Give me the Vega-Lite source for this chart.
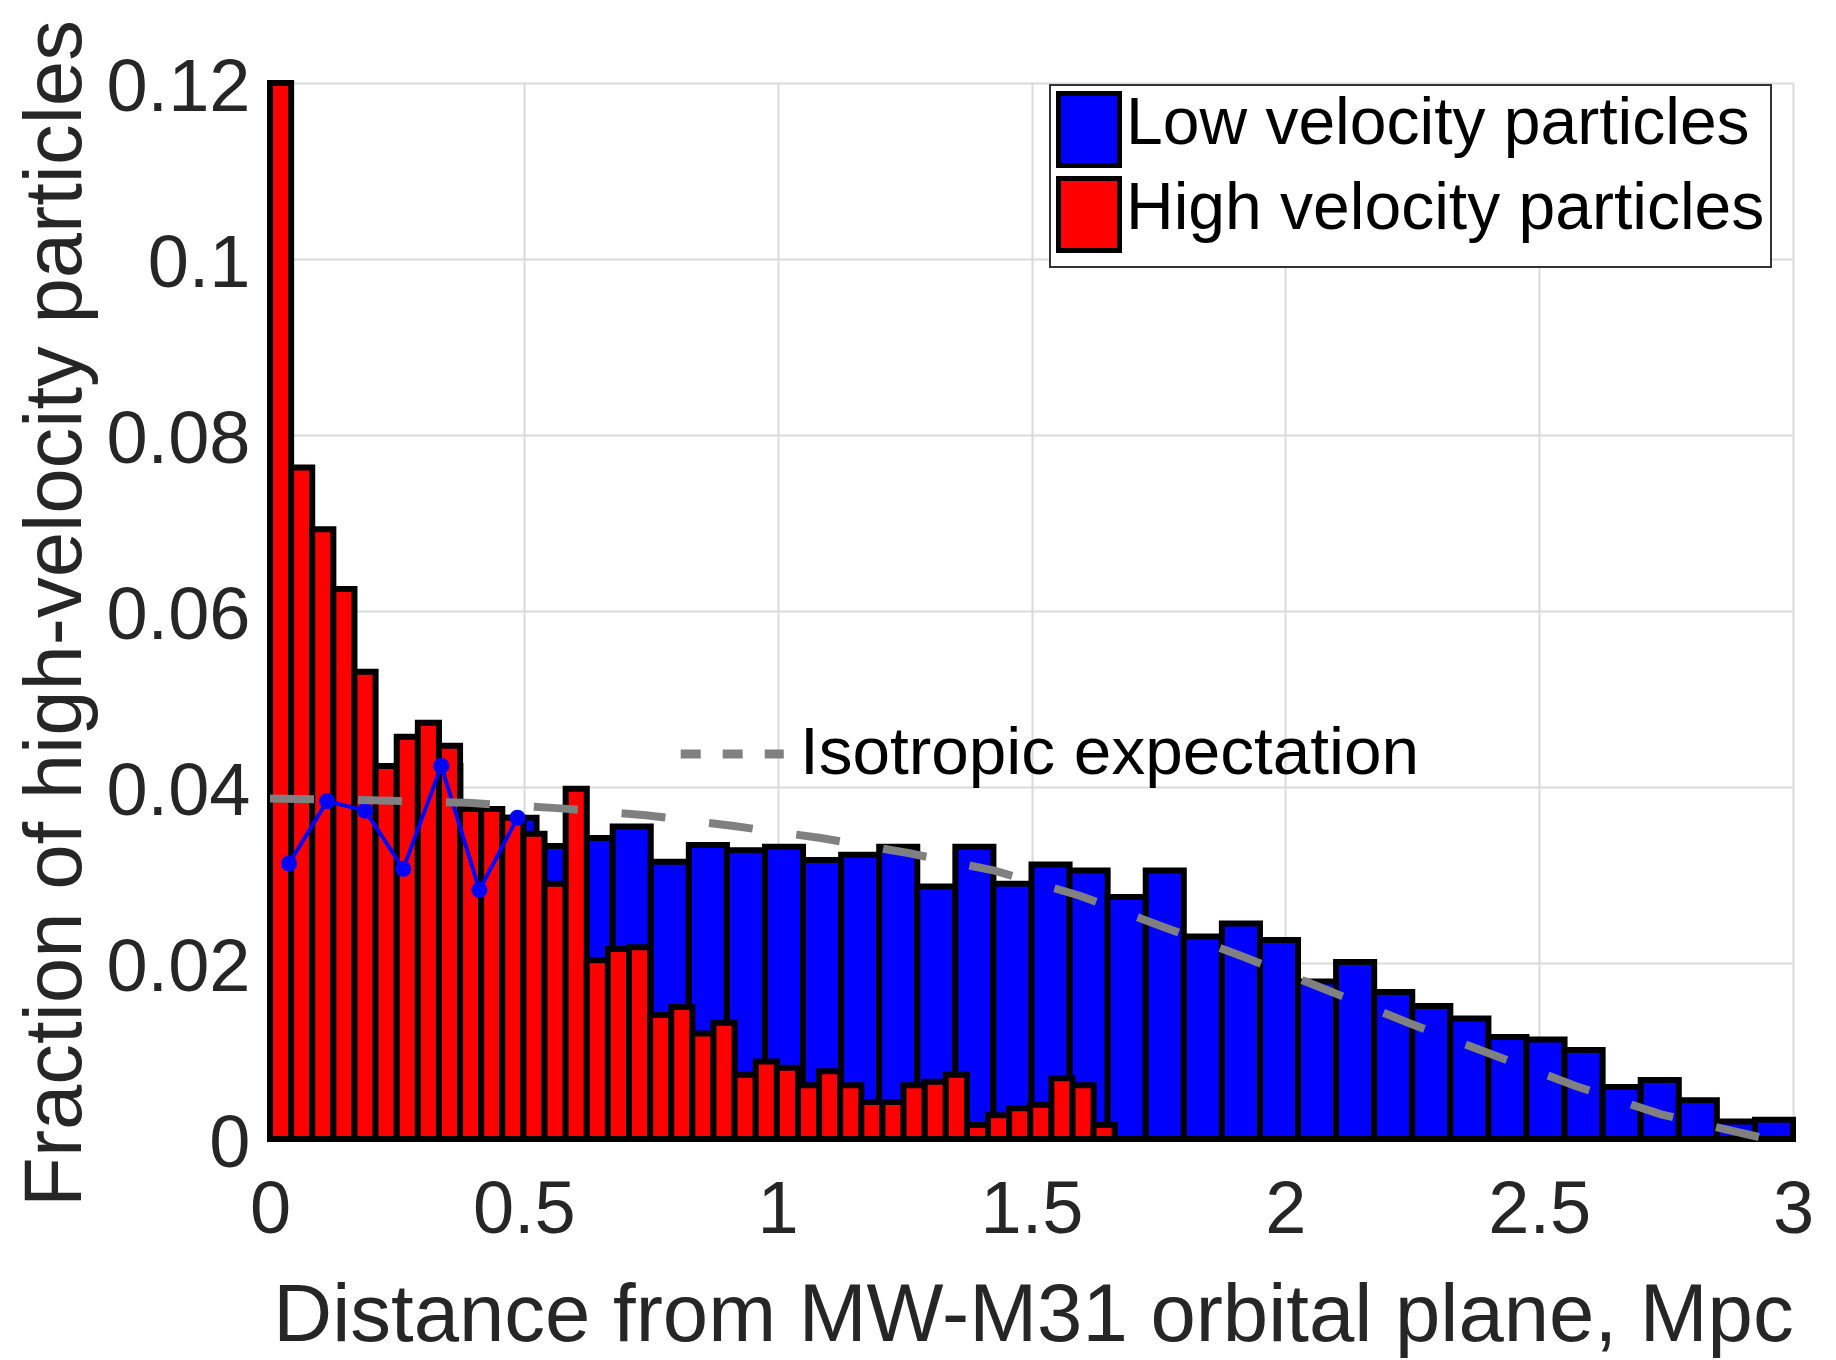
{
  "$schema": "https://vega.github.io/schema/vega-lite/v6.json",
  "width": 1523,
  "height": 1056,
  "autosize": {"type": "none"},
  "padding": {"left": 270, "top": 83, "right": 43, "bottom": 221},
  "background": "white",
  "config": {
    "font": "Liberation Sans",
    "view": {"stroke": null},
    "axis": {
      "grid": true,
      "gridColor": "#dadada",
      "gridWidth": 2,
      "domain": false,
      "ticks": false,
      "tickSize": 0,
      "labelFont": "Liberation Sans",
      "labelFontSize": 74,
      "labelColor": "#262626",
      "labelFlush": false,
      "labelOverlap": false,
      "titleFont": "Liberation Sans",
      "titleFontSize": 81.5,
      "titleFontWeight": "normal",
      "titleColor": "#262626"
    },
    "legend": {"strokeWidth": 2}
  },
  "datasets": {
    "bars": [
      {"s": "Low velocity particles", "x0": 0.0, "x1": 0.075, "v": 0.0313},
      {"s": "Low velocity particles", "x0": 0.075, "x1": 0.15, "v": 0.0384},
      {"s": "Low velocity particles", "x0": 0.15, "x1": 0.225, "v": 0.0373},
      {"s": "Low velocity particles", "x0": 0.225, "x1": 0.3, "v": 0.0307},
      {"s": "Low velocity particles", "x0": 0.3, "x1": 0.375, "v": 0.0424},
      {"s": "Low velocity particles", "x0": 0.375, "x1": 0.45, "v": 0.0283},
      {"s": "Low velocity particles", "x0": 0.45, "x1": 0.525, "v": 0.0365},
      {"s": "Low velocity particles", "x0": 0.525, "x1": 0.6, "v": 0.0333},
      {"s": "Low velocity particles", "x0": 0.6, "x1": 0.675, "v": 0.0342},
      {"s": "Low velocity particles", "x0": 0.675, "x1": 0.75, "v": 0.0355},
      {"s": "Low velocity particles", "x0": 0.75, "x1": 0.825, "v": 0.0315},
      {"s": "Low velocity particles", "x0": 0.825, "x1": 0.9, "v": 0.0334},
      {"s": "Low velocity particles", "x0": 0.9, "x1": 0.975, "v": 0.0328},
      {"s": "Low velocity particles", "x0": 0.975, "x1": 1.05, "v": 0.0332},
      {"s": "Low velocity particles", "x0": 1.05, "x1": 1.125, "v": 0.0317},
      {"s": "Low velocity particles", "x0": 1.125, "x1": 1.2, "v": 0.0323},
      {"s": "Low velocity particles", "x0": 1.2, "x1": 1.275, "v": 0.0332},
      {"s": "Low velocity particles", "x0": 1.275, "x1": 1.35, "v": 0.0287},
      {"s": "Low velocity particles", "x0": 1.35, "x1": 1.425, "v": 0.0332},
      {"s": "Low velocity particles", "x0": 1.425, "x1": 1.5, "v": 0.029},
      {"s": "Low velocity particles", "x0": 1.5, "x1": 1.575, "v": 0.0312},
      {"s": "Low velocity particles", "x0": 1.575, "x1": 1.65, "v": 0.0305},
      {"s": "Low velocity particles", "x0": 1.65, "x1": 1.725, "v": 0.0275},
      {"s": "Low velocity particles", "x0": 1.725, "x1": 1.8, "v": 0.0305},
      {"s": "Low velocity particles", "x0": 1.8, "x1": 1.875, "v": 0.023},
      {"s": "Low velocity particles", "x0": 1.875, "x1": 1.95, "v": 0.0245},
      {"s": "Low velocity particles", "x0": 1.95, "x1": 2.025, "v": 0.0226},
      {"s": "Low velocity particles", "x0": 2.025, "x1": 2.1, "v": 0.0179},
      {"s": "Low velocity particles", "x0": 2.1, "x1": 2.175, "v": 0.0201},
      {"s": "Low velocity particles", "x0": 2.175, "x1": 2.25, "v": 0.0167},
      {"s": "Low velocity particles", "x0": 2.25, "x1": 2.325, "v": 0.0151},
      {"s": "Low velocity particles", "x0": 2.325, "x1": 2.4, "v": 0.0137},
      {"s": "Low velocity particles", "x0": 2.4, "x1": 2.475, "v": 0.0116},
      {"s": "Low velocity particles", "x0": 2.475, "x1": 2.55, "v": 0.0113},
      {"s": "Low velocity particles", "x0": 2.55, "x1": 2.625, "v": 0.0101},
      {"s": "Low velocity particles", "x0": 2.625, "x1": 2.7, "v": 0.0059},
      {"s": "Low velocity particles", "x0": 2.7, "x1": 2.775, "v": 0.0067},
      {"s": "Low velocity particles", "x0": 2.775, "x1": 2.85, "v": 0.0044},
      {"s": "Low velocity particles", "x0": 2.85, "x1": 2.925, "v": 0.002},
      {"s": "Low velocity particles", "x0": 2.925, "x1": 3.0, "v": 0.0022},
      {"s": "High velocity particles", "x0": 0.0, "x1": 0.0416, "v": 0.12},
      {"s": "High velocity particles", "x0": 0.0416, "x1": 0.0832, "v": 0.0763},
      {"s": "High velocity particles", "x0": 0.0832, "x1": 0.1248, "v": 0.0693},
      {"s": "High velocity particles", "x0": 0.1248, "x1": 0.1664, "v": 0.0625},
      {"s": "High velocity particles", "x0": 0.1664, "x1": 0.208, "v": 0.0531},
      {"s": "High velocity particles", "x0": 0.208, "x1": 0.2496, "v": 0.0424},
      {"s": "High velocity particles", "x0": 0.2496, "x1": 0.2912, "v": 0.0457},
      {"s": "High velocity particles", "x0": 0.2912, "x1": 0.3328, "v": 0.0473},
      {"s": "High velocity particles", "x0": 0.3328, "x1": 0.3744, "v": 0.0447},
      {"s": "High velocity particles", "x0": 0.3744, "x1": 0.416, "v": 0.0375},
      {"s": "High velocity particles", "x0": 0.416, "x1": 0.4576, "v": 0.0375},
      {"s": "High velocity particles", "x0": 0.4576, "x1": 0.4992, "v": 0.0365},
      {"s": "High velocity particles", "x0": 0.4992, "x1": 0.5408, "v": 0.0347},
      {"s": "High velocity particles", "x0": 0.5408, "x1": 0.5824, "v": 0.029},
      {"s": "High velocity particles", "x0": 0.5824, "x1": 0.624, "v": 0.0398},
      {"s": "High velocity particles", "x0": 0.624, "x1": 0.6656, "v": 0.0203},
      {"s": "High velocity particles", "x0": 0.6656, "x1": 0.7072, "v": 0.0216},
      {"s": "High velocity particles", "x0": 0.7072, "x1": 0.7488, "v": 0.0218},
      {"s": "High velocity particles", "x0": 0.7488, "x1": 0.7904, "v": 0.0141},
      {"s": "High velocity particles", "x0": 0.7904, "x1": 0.832, "v": 0.015},
      {"s": "High velocity particles", "x0": 0.832, "x1": 0.8736, "v": 0.012},
      {"s": "High velocity particles", "x0": 0.8736, "x1": 0.9152, "v": 0.0132},
      {"s": "High velocity particles", "x0": 0.9152, "x1": 0.9568, "v": 0.0073},
      {"s": "High velocity particles", "x0": 0.9568, "x1": 0.9984, "v": 0.0088},
      {"s": "High velocity particles", "x0": 0.9984, "x1": 1.04, "v": 0.0081},
      {"s": "High velocity particles", "x0": 1.04, "x1": 1.0816, "v": 0.0061},
      {"s": "High velocity particles", "x0": 1.0816, "x1": 1.1232, "v": 0.0077},
      {"s": "High velocity particles", "x0": 1.1232, "x1": 1.1648, "v": 0.0061},
      {"s": "High velocity particles", "x0": 1.1648, "x1": 1.2064, "v": 0.0042},
      {"s": "High velocity particles", "x0": 1.2064, "x1": 1.248, "v": 0.0042},
      {"s": "High velocity particles", "x0": 1.248, "x1": 1.2896, "v": 0.0061},
      {"s": "High velocity particles", "x0": 1.2896, "x1": 1.3312, "v": 0.0065},
      {"s": "High velocity particles", "x0": 1.3312, "x1": 1.3728, "v": 0.0073},
      {"s": "High velocity particles", "x0": 1.3728, "x1": 1.4144, "v": 0.0016},
      {"s": "High velocity particles", "x0": 1.4144, "x1": 1.456, "v": 0.0027},
      {"s": "High velocity particles", "x0": 1.456, "x1": 1.4976, "v": 0.0035},
      {"s": "High velocity particles", "x0": 1.4976, "x1": 1.5392, "v": 0.0039},
      {"s": "High velocity particles", "x0": 1.5392, "x1": 1.5808, "v": 0.0069},
      {"s": "High velocity particles", "x0": 1.5808, "x1": 1.6224, "v": 0.0061},
      {"s": "High velocity particles", "x0": 1.6224, "x1": 1.664, "v": 0.0016}
    ],
    "lowline": [
      {"x": 0.0375, "v": 0.0313},
      {"x": 0.1125, "v": 0.0384},
      {"x": 0.1875, "v": 0.0373},
      {"x": 0.2625, "v": 0.0307},
      {"x": 0.3375, "v": 0.0424},
      {"x": 0.4125, "v": 0.0283},
      {"x": 0.4875, "v": 0.0365}
    ],
    "iso": [
      {"x": 0.0, "v": 0.0387},
      {"x": 0.2, "v": 0.0385},
      {"x": 0.39, "v": 0.0382},
      {"x": 0.565, "v": 0.0376},
      {"x": 0.74, "v": 0.0368},
      {"x": 0.91, "v": 0.0356},
      {"x": 1.085, "v": 0.0342},
      {"x": 1.257, "v": 0.0325},
      {"x": 1.427, "v": 0.0305},
      {"x": 1.595, "v": 0.02765},
      {"x": 1.76, "v": 0.0241},
      {"x": 1.92, "v": 0.02065},
      {"x": 2.083, "v": 0.0169},
      {"x": 2.247, "v": 0.0131},
      {"x": 2.41, "v": 0.00955},
      {"x": 2.573, "v": 0.006},
      {"x": 2.74, "v": 0.0028},
      {"x": 2.95, "v": 0.0}
    ],
    "annodash": [
      {"x": 0.809, "v": 0.04375},
      {"x": 1.012, "v": 0.04375}
    ],
    "annotext": [
      {"x": 1.044, "v": 0.0415, "label": "Isotropic expectation"}
    ]
  },
  "layer": [
    {
      "data": {"name": "bars"},
      "mark": {"type": "bar", "stroke": "black", "strokeWidth": 6, "opacity": 1},
      "encoding": {
        "x": {
          "field": "x0", "type": "quantitative",
          "scale": {"domain": [0, 3], "nice": false, "zero": false},
          "axis": {
            "values": [0, 0.5, 1, 1.5, 2, 2.5, 3],
            "format": "~g",
            "labelPadding": 35,
            "titleX": 763,
            "titleY": 201,
            "titleBaseline": "alphabetic"
          },
          "title": "Distance from MW-M31 orbital plane, Mpc"
        },
        "x2": {"field": "x1"},
        "y": {
          "field": "v", "type": "quantitative", "stack": null,
          "scale": {"domain": [0, 0.12], "nice": false},
          "axis": {
            "values": [0, 0.02, 0.04, 0.06, 0.08, 0.1, 0.12],
            "format": "~g",
            "labelPadding": 20,
            "labelOffset": 5,
            "titleAngle": -90,
            "titleX": -190,
            "titleY": 530,
            "titleBaseline": "alphabetic"
          },
          "title": "Fraction of high-velocity particles"
        },
        "y2": {"datum": 0},
        "color": {
          "field": "s", "type": "nominal",
          "scale": {"domain": ["Low velocity particles", "High velocity particles"], "range": ["#0000ff", "#ff0000"]},
          "legend": {
            "orient": "none",
            "legendX": 780,
            "legendY": 2,
            "title": null,
            "direction": "vertical",
            "symbolType": "M-1,-1.0H1V1.36H-1Z",
            "symbolSize": 3721,
            "symbolStrokeColor": "black",
            "symbolStrokeWidth": 5,
            "symbolOpacity": 1,
            "labelFontSize": 66,
            "labelColor": "black",
            "labelLimit": 1200,
            "labelOffset": 4,
            "padding": 6,
            "rowPadding": -8,
            "strokeColor": "#333333",
            "fillColor": "white"
          }
        }
      }
    },
    {
      "data": {"name": "lowline"},
      "mark": {"type": "line", "color": "#0000ff", "strokeWidth": 4},
      "encoding": {
        "x": {"field": "x", "type": "quantitative"},
        "y": {"field": "v", "type": "quantitative"}
      }
    },
    {
      "data": {"name": "lowline"},
      "mark": {"type": "point", "filled": true, "size": 260, "color": "#0000ff", "opacity": 1},
      "encoding": {
        "x": {"field": "x", "type": "quantitative"},
        "y": {"field": "v", "type": "quantitative"}
      }
    },
    {
      "data": {"name": "iso"},
      "mark": {"type": "line", "color": "#808080", "strokeWidth": 8, "strokeDash": [44, 44], "strokeCap": "butt"},
      "encoding": {
        "x": {"field": "x", "type": "quantitative"},
        "y": {"field": "v", "type": "quantitative"}
      }
    },
    {
      "data": {"name": "annodash"},
      "mark": {"type": "line", "color": "#808080", "strokeWidth": 9, "strokeDash": [20, 22], "strokeCap": "butt"},
      "encoding": {
        "x": {"field": "x", "type": "quantitative"},
        "y": {"field": "v", "type": "quantitative"}
      }
    },
    {
      "data": {"name": "annotext"},
      "mark": {"type": "text", "align": "left", "baseline": "alphabetic", "fontSize": 67.5, "color": "black", "font": "Liberation Sans"},
      "encoding": {
        "x": {"field": "x", "type": "quantitative"},
        "y": {"field": "v", "type": "quantitative"},
        "text": {"field": "label"}
      }
    }
  ]
}
